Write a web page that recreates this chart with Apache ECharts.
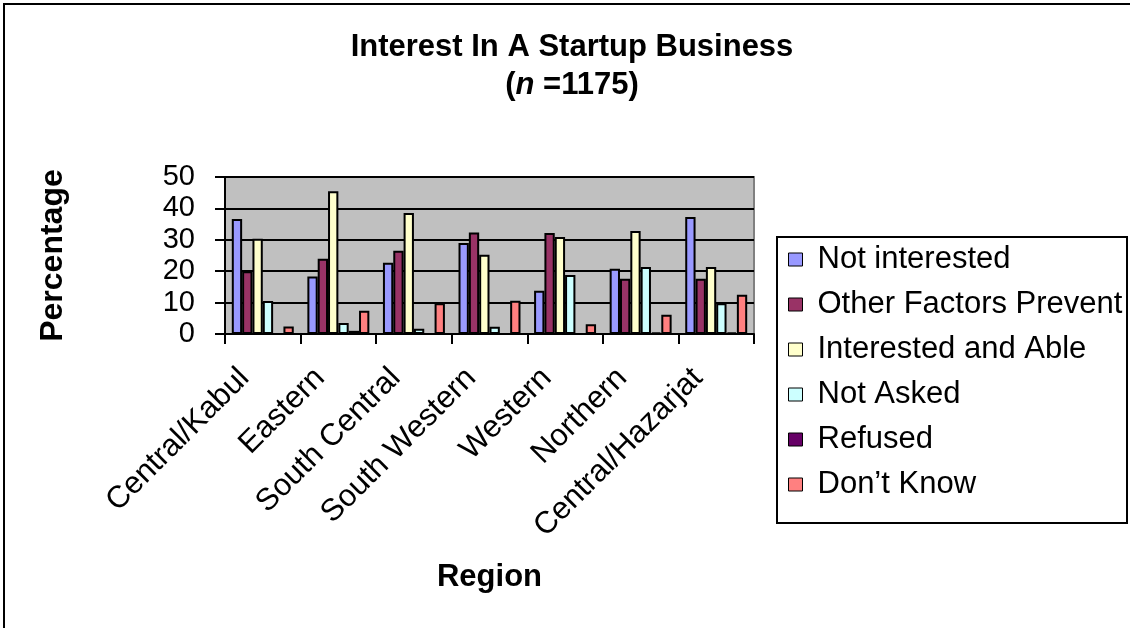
<!DOCTYPE html>
<html>
<head>
<meta charset="utf-8">
<script src="https://cdn.jsdelivr.net/npm/echarts@6/dist/echarts.min.js"></script>
<style>
  html, body { margin: 0; padding: 0; background: #fff; }
  #chart { width: 1130px; height: 628px; }
</style>
</head>
<body>
<div id="chart"></div>
<script>
var regions = ['Central/Kabul', 'Eastern', 'South Central', 'South Western', 'Western', 'Northern', 'Central/Hazarjat'];
var yTicks = [0, 10, 20, 30, 40, 50];

var notInterested = [36.6, 18.3, 22.7, 29.0, 13.8, 20.8, 37.3];
var otherFactors = [20.0, 24.0, 26.5, 32.3, 32.2, 17.6, 17.6];
var interestedAble = [30.3, 45.5, 38.5, 25.2, 30.9, 32.8, 21.3];
var notAsked = [10.5, 3.5, 1.7, 2.3, 18.8, 21.3, 9.8];
var refused = [0, 1.0, 0, 0, 0, 0.5, 0.5];
var dontKnow = [2.4, 7.4, 9.8, 10.6, 3.1, 6.1, 12.5];

var seriesNames = ['Not interested', 'Other Factors Prevent', 'Interested and Able', 'Not Asked', 'Refused', 'Don\u2019t Know'];
var seriesColors = ['#9999ff', '#993366', '#ffffcc', '#ccffff', '#660066', '#ff8080'];
var seriesData = [notInterested, otherFactors, interestedAble, notAsked, refused, dontKnow];

var font = 'Liberation Sans, Arial, sans-serif';

var chartDom = document.getElementById('chart');
var myChart = echarts.init(chartDom);
var option;

var series = [];
for (var i = 0; i < seriesNames.length; i++) {
    series.push({
        name: seriesNames[i],
        type: 'bar',
        data: seriesData[i],
        barGap: '0%',
        barCategoryGap: '18%',
        itemStyle: { color: seriesColors[i], borderColor: '#000', borderWidth: 2 }
    });
}

option = {
    animation: false,
    backgroundColor: '#fff',
    textStyle: { fontFamily: font },
    title: [
        {
            text: 'Interest In A Startup Business',
            left: 572, top: 32, textAlign: 'center', padding: 0,
            textStyle: { fontFamily: font, fontSize: 31, fontWeight: 'bold', color: '#000' }
        },
        {
            text: '{b|(}{i|n}{b| =1175)}',
            left: 572, top: 70, textAlign: 'center', padding: 0,
            textStyle: {
                fontFamily: font, fontSize: 31, fontWeight: 'bold', color: '#000',
                rich: {
                    b: { fontFamily: font, fontSize: 31, fontWeight: 'bold', color: '#000' },
                    i: { fontFamily: font, fontSize: 31, fontWeight: 'bold', fontStyle: 'italic', color: '#000' }
                }
            }
        }
    ],
    legend: {
        orient: 'vertical',
        left: 788, top: 244,
        padding: 0,
        itemGap: 14,
        itemWidth: 14, itemHeight: 13,
        icon: 'rect',
        itemStyle: { borderColor: '#000', borderWidth: 1 },
        textStyle: { fontFamily: font, fontSize: 31, lineHeight: 31, color: '#000', padding: [0, 0, 0, 10] },
        data: seriesNames
    },
    grid: {
        left: 225, right: 376, top: 177, bottom: 294,
        show: true, backgroundColor: '#c0c0c0', borderColor: '#808080', borderWidth: 2
    },
    xAxis: {
        type: 'category',
        data: regions,
        name: 'Region',
        nameLocation: 'middle',
        nameGap: 228,
        nameTextStyle: { fontFamily: font, fontSize: 31, fontWeight: 'bold', color: '#000' },
        axisLine: { lineStyle: { color: '#000', width: 2 } },
        axisTick: { show: true, length: 10, lineStyle: { color: '#000', width: 2 } },
        axisLabel: { interval: 0, rotate: 45, margin: 21, padding: [0, 26, 0, 0], fontFamily: font, fontSize: 31, color: '#000' }
    },
    yAxis: {
        type: 'value',
        min: yTicks[0], max: yTicks[yTicks.length - 1], interval: 10,
        name: 'Percentage',
        nameLocation: 'middle',
        nameGap: 156,
        nameTextStyle: { fontFamily: font, fontSize: 32, fontWeight: 'bold', color: '#000' },
        axisLine: { show: true, lineStyle: { color: '#000', width: 2 } },
        axisTick: { show: true, length: 10, lineStyle: { color: '#000', width: 2 } },
        axisLabel: { margin: 30, fontFamily: font, fontSize: 29, color: '#000' },
        splitLine: { show: true, lineStyle: { color: '#000', width: 2 } }
    },
    graphic: [
        {
            type: 'rect', silent: true, z: -1,
            shape: { x: 4, y: 4, width: 1200, height: 700 },
            style: { fill: null, stroke: '#000', lineWidth: 2 }
        },
        {
            type: 'rect', silent: true,
            shape: { x: 777, y: 237, width: 350, height: 286 },
            style: { fill: null, stroke: '#000', lineWidth: 2 }
        }
    ],
    series: series
};

option && myChart.setOption(option);
</script>
</body>
</html>
